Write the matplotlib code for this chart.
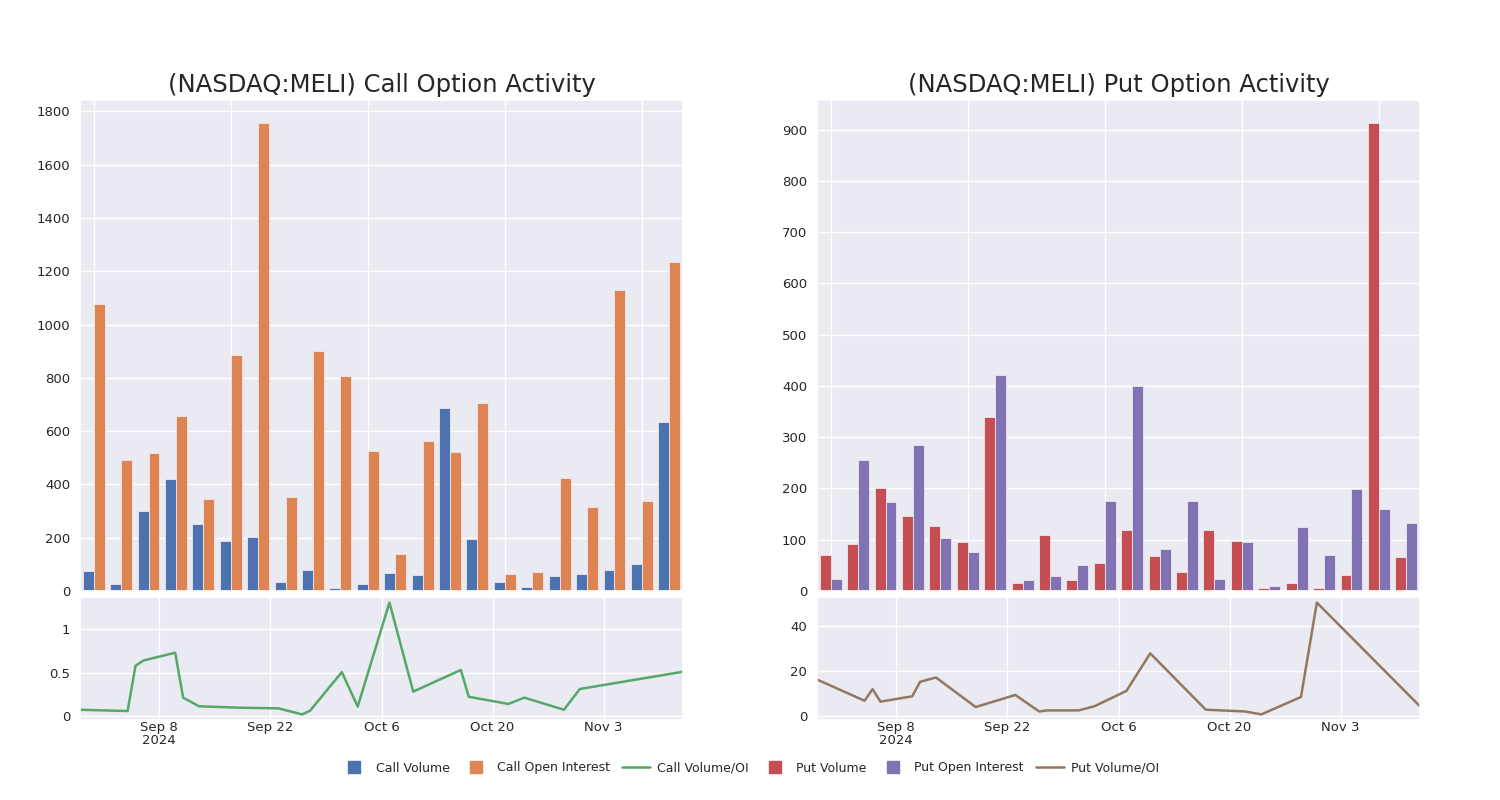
import pandas as pd
import matplotlib
matplotlib.use("Agg")
import matplotlib.pyplot as plt
import seaborn as sns
from matplotlib.ticker import FuncFormatter, MultipleLocator
from matplotlib.lines import Line2D

sns.set_theme(style="darkgrid")
plt.rcParams['font.family'] = ['DejaVu Sans']

# dates of each observation
DATES = ['2024-08-29', '2024-09-04', '2024-09-05', '2024-09-06', '2024-09-10', '2024-09-11',
         '2024-09-13', '2024-09-18', '2024-09-23', '2024-09-26', '2024-09-27', '2024-10-01',
         '2024-10-03', '2024-10-07', '2024-10-10', '2024-10-16', '2024-10-17', '2024-10-22',
         '2024-10-24', '2024-10-29', '2024-10-31', '2024-11-13']

CALL_VOL = [75, 26, 299, 422, 251, 186, 203, 33, 77, 13, 26, 69, 59, 685, 197, 34, 15, 58, 65, 80, 103, 634]
CALL_OI = [1077, 490, 517, 658, 344, 884, 1755, 353, 901, 808, 526, 139, 562, 521, 704, 65, 73, 424, 314, 1130, 336, 1233]
CALL_RATIO = [0.07, 0.055, 0.58, 0.64, 0.73, 0.21, 0.11, 0.094, 0.086, 0.016, 0.059, 0.506,
              0.106, 1.31, 0.28, 0.53, 0.22, 0.137, 0.21, 0.07, 0.31, 0.51]

PUT_VOL = [71, 91, 200, 146, 126, 96, 339, 16, 110, 21, 54, 119, 68, 37, 118, 97, 6, 15, 6, 32, 912, 66]
PUT_OI = [24, 255, 174, 284, 103, 76, 421, 22, 29, 50, 175, 399, 81, 175, 23, 96, 10, 125, 70, 198, 159, 133]
PUT_RATIO = [16.1, 6.6, 11.8, 6.2, 8.6, 15.1, 17.0, 3.8, 9.2, 1.8, 2.3, 2.3, 4.2, 11.0, 27.8,
             6.2, 2.6, 1.8, 0.5, 8.3, 50.5, 4.1]

TICK_DATES = ['2024-09-08', '2024-09-22', '2024-10-06', '2024-10-20', '2024-11-03']
TICK_LABELS = ['Sep 8\n2024', 'Sep 22', 'Oct 6', 'Oct 20', 'Nov 3']

BLUE, ORANGE, GREEN = '#4C72B0', '#DD8452', '#55A868'
RED, PURPLE, BROWN = '#C44E52', '#8172B3', '#937860'

W, H = 1500, 800
fig = plt.figure(figsize=(15, 8), dpi=100)
dates = pd.to_datetime(DATES)
fmt = FuncFormatter(lambda v, p: '{:g}'.format(v))
handles = []


def panel(x0, title, vol, oi, ratio, c1, c2, c3, names, step):
    ax = fig.add_axes([x0 / W, (H - 591) / H, 603 / W, 491 / H])
    ax2 = fig.add_axes([x0 / W, (H - 720) / H, 603 / W, 123 / H])
    n = len(vol)
    pos = list(range(n))
    ax.bar([p - 0.2 for p in pos], vol, width=0.4, color=c1, edgecolor='#f0e6ea', linewidth=0.6)
    ax.bar([p + 0.2 for p in pos], oi, width=0.4, color=c2, edgecolor='#f0e6ea', linewidth=0.6)
    ax.set_xlim(-0.5, n - 0.5)
    ax.set_xticks([0, 5, 10, 15, 20])
    ax.set_xticklabels([])
    ax.yaxis.set_major_locator(MultipleLocator(step))
    ax.tick_params(axis='y', labelsize=9.5, pad=1)
    ax.set_title(title, fontsize=17.5, pad=6)
    ax2.plot(dates, ratio, color=c3, linewidth=1.8)
    ax2.set_xlim(pd.Timestamp('2024-08-29'), pd.Timestamp('2024-11-13'))
    ax2.set_xticks(pd.to_datetime(TICK_DATES))
    ax2.set_xticklabels(TICK_LABELS, linespacing=1.0)
    ax2.yaxis.set_major_formatter(fmt)
    ax2.tick_params(axis='y', labelsize=9.5, pad=1)
    ax2.tick_params(axis='x', labelsize=9.5, length=0, pad=1)
    return [Line2D([], [], marker='s', linestyle='none', color=c1, markersize=9, label=names[0]),
            Line2D([], [], marker='s', linestyle='none', color=c2, markersize=9, label=names[1]),
            Line2D([], [], color=c3, linewidth=1.8, label=names[2])]


handles += panel(80, '(NASDAQ:MELI) Call Option Activity', CALL_VOL, CALL_OI, CALL_RATIO,
                 BLUE, ORANGE, GREEN, ['Call Volume', 'Call Open Interest', 'Call Volume/OI'], 200)
handles += panel(817, '(NASDAQ:MELI) Put Option Activity', PUT_VOL, PUT_OI, PUT_RATIO,
                 RED, PURPLE, BROWN, ['Put Volume', 'Put Open Interest', 'Put Volume/OI'], 100)

fig.legend(handles, [h.get_label() for h in handles], loc='center', bbox_to_anchor=(0.5, (H - 768) / H),
           ncol=6, frameon=False, fontsize=9, handlelength=2.2, columnspacing=1.0, handletextpad=0.6)

fig.savefig('out.png', dpi=100)
